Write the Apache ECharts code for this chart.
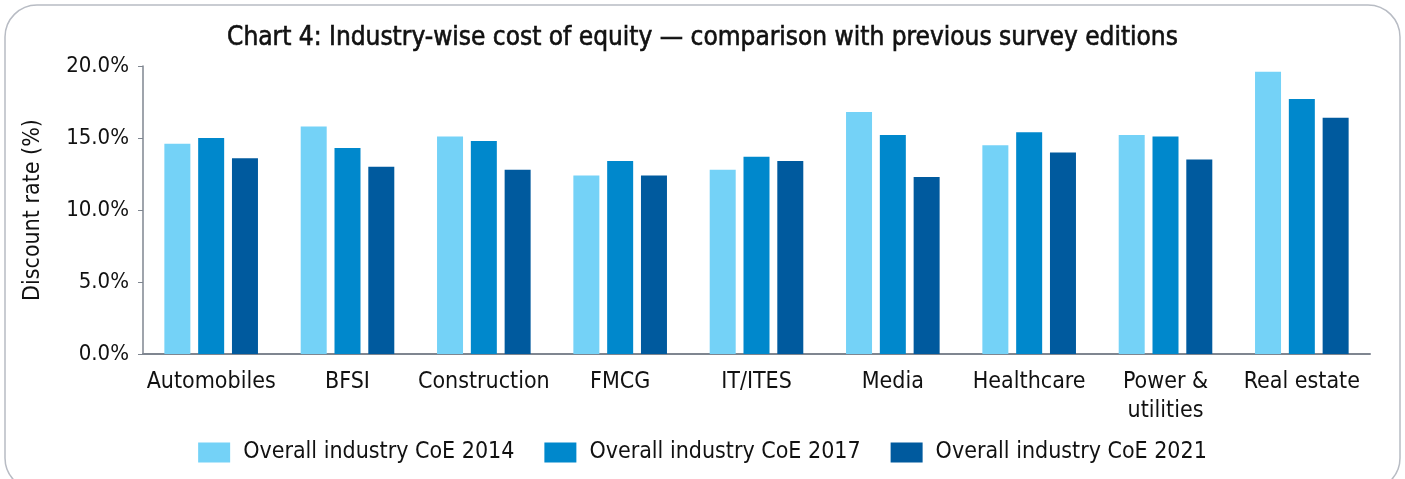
<!doctype html>
<html>
<head>
<meta charset="UTF-8">
<title>Chart 4</title>
<script src="https://cdn.jsdelivr.net/npm/echarts@6/dist/echarts.min.js"></script>
<style>
  html, body { margin: 0; padding: 0; background: #fff; }
  #main { width: 1405px; height: 479px; }
</style>
</head>
<body>
<div id="main"></div>
<script>
// categories and values (%)
var industries = ['Automobiles', 'BFSI', 'Construction', 'FMCG', 'IT/ITES', 'Media', 'Healthcare', 'Power &\nutilities', 'Real estate'];
var coe2014 = [14.6, 15.8, 15.1, 12.4, 12.8, 16.8, 14.5, 15.2, 19.6];
var coe2017 = [15.0, 14.3, 14.8, 13.4, 13.7, 15.2, 15.4, 15.1, 17.7];
var coe2021 = [13.6, 13.0, 12.8, 12.4, 13.4, 12.3, 14.0, 13.5, 16.4];
var seriesNames = ['Overall industry CoE 2014', 'Overall industry CoE 2017', 'Overall industry CoE 2021'];
var colors = ['#74d2f7', '#0088cc', '#005a9e'];

var font = '"Liberation Sans Narrow", "DejaVu Sans Condensed", "Noto Sans", sans-serif';
var myChart = echarts.init(document.getElementById('main'));

function bar(name, data, color) {
  return {
    name: name,
    type: 'bar',
    data: data,
    barWidth: 26,
    barGap: '30%',
    itemStyle: { color: color }
  };
}

var option = {
  animation: false,
  color: colors,
  title: {
    text: 'Chart 4: Industry-wise cost of equity \u2014 comparison with previous survey editions',
    left: 'center',
    top: 20,
    // medium weight: normal glyphs with a thin outline of the same colour
    textStyle: { fontFamily: font, fontSize: 26, fontWeight: 'normal', color: '#111', textBorderColor: '#111', textBorderWidth: 0.6 }
  },
  //圆角外框
  graphic: [{
    type: 'rect',
    shape: { x: 5, y: 5, width: 1395, height: 485, r: 32 },
    style: { fill: 'none', stroke: '#b8bcc4', lineWidth: 1.5 },
    silent: true
  }],
  grid: { left: 143, right: 35, top: 66, bottom: 125, containLabel: false },
  legend: {
    bottom: 10,
    left: 'center',
    itemWidth: 32,
    itemHeight: 20,
    itemGap: 30,
    icon: 'rect',
    textStyle: { fontFamily: font, fontSize: 23, color: '#111', padding: [0, 0, 0, 8] },
    data: seriesNames
  },
  xAxis: {
    type: 'category',
    data: industries,
    axisLine: { lineStyle: { color: '#7f8690', width: 2 } },
    axisTick: { show: false },
    axisLabel: { fontFamily: font, fontSize: 23, color: '#111', margin: 14, lineHeight: 29, interval: 0 }
  },
  yAxis: {
    type: 'value',
    min: 0,
    max: 20,
    interval: 5,
    name: 'Discount rate (%)',
    nameLocation: 'middle',
    nameGap: 98,
    nameTextStyle: { fontFamily: font, fontSize: 23, color: '#111' },
    axisLine: { show: true, lineStyle: { color: '#7f8690', width: 1.5 } },
    axisTick: { show: true, inside: false, length: 5, lineStyle: { color: '#7f8690' } },
    splitLine: { show: false },
    axisLabel: {
      fontFamily: font, fontSize: 22, color: '#111', margin: 14,
      formatter: function (v) { return v.toFixed(1) + '%'; }
    }
  },
  series: [
    bar(seriesNames[0], coe2014, colors[0]),
    bar(seriesNames[1], coe2017, colors[1]),
    bar(seriesNames[2], coe2021, colors[2])
  ]
};
myChart.setOption(option);
</script>
</body>
</html>
